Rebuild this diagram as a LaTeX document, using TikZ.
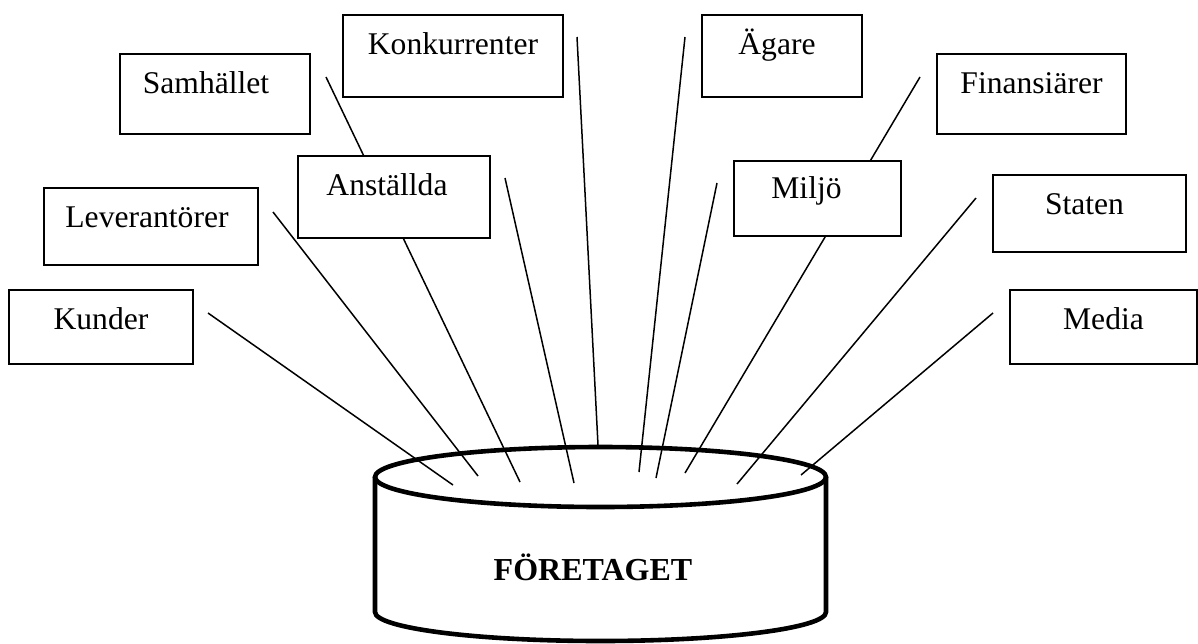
\documentclass[tikz,border=0pt]{standalone}
\usepackage{fontspec}
\setmainfont{Liberation Serif}
\usepackage{tikz}

\tikzset{
  ruta/.style={draw,fill=white,line width=1pt,inner sep=0pt,anchor=north west,
    text height=19.5pt,text depth=#1},
  ruta/.default=20pt,
  linje/.style={line width=0.75pt},
  cyl/.style={line width=2.3pt}
}

\begin{document}
\begin{tikzpicture}[x=0.5pt,y=-0.5pt,font=\fontsize{15.8pt}{18pt}\selectfont]
  \useasboundingbox (0,0) rectangle (1198,643);
  % the company as a cylinder
  \draw[cyl] (375,477) -- (375,612) arc[start angle=180,end angle=360,x radius=112.75pt,y radius=14.5pt] -- (826,477);
  \draw[cyl] (600.5,477) ellipse[x radius=112.75pt,y radius=15pt];
  \node[font=\fontsize{16pt}{18pt}\bfseries,anchor=base] (foretaget) at (593,580) {FÖRETAGET};
  % free ends of the lines
  \coordinate (kunA) at (208,313);  \coordinate (kunB) at (453,485);
  \coordinate (levA) at (273,212);  \coordinate (levB) at (478,476);
  \coordinate (samA) at (326,77);   \coordinate (samB) at (520,482);
  \coordinate (ansA) at (505,178);  \coordinate (ansB) at (574,483);
  \coordinate (konA) at (577,37);   \coordinate (konB) at (598,445);
  \coordinate (agaA) at (685,37);   \coordinate (agaB) at (639,472);
  \coordinate (milA) at (717,183);  \coordinate (milB) at (656,478);
  \coordinate (finA) at (920,77);   \coordinate (finB) at (685,473);
  \coordinate (staA) at (976,198);  \coordinate (staB) at (737,484);
  \coordinate (medA) at (993,313);  \coordinate (medB) at (801,475);
  \foreach \n in {kun,lev,sam,ans,kon,aga,mil,fin,sta,med}
    \draw[linje] (\n A) -- (\n B);
  % the stakeholders
  \node[ruta=20.5pt,minimum width=95pt] (samhallet) at (119,53) {\hspace*{-9pt}Samhället};
  \node[ruta=21.5pt,minimum width=110pt] (konkurrenter) at (342,14) {Konkurrenter};
  \node[ruta=21.5pt,minimum width=80pt] (agare) at (701,14) {\hspace*{-5pt}Ägare};
  \node[ruta=20.5pt,minimum width=94.5pt] (finansiarer) at (936,53) {Finansiärer};
  \node[ruta=21.5pt,minimum width=96pt] (anstallda) at (297,155) {\hspace*{-7pt}Anställda};
  \node[ruta=19pt,minimum width=83.5pt,text height=18.5pt] (miljo) at (733,160) {\hspace*{-11pt}Miljö};
  \node[ruta=19pt,minimum width=107pt] (leverantorer) at (43,187) {\hspace*{-4pt}Leverantörer};
  \node[ruta=19pt,minimum width=96.5pt] (staten) at (992,174) {\hspace*{-5pt}Staten};
  \node[ruta=17.5pt,minimum width=92pt] (kunder) at (8,289) {Kunder};
  \node[ruta=17.5pt,minimum width=93.5pt] (media) at (1009,289) {Media};
\end{tikzpicture}
\end{document}
